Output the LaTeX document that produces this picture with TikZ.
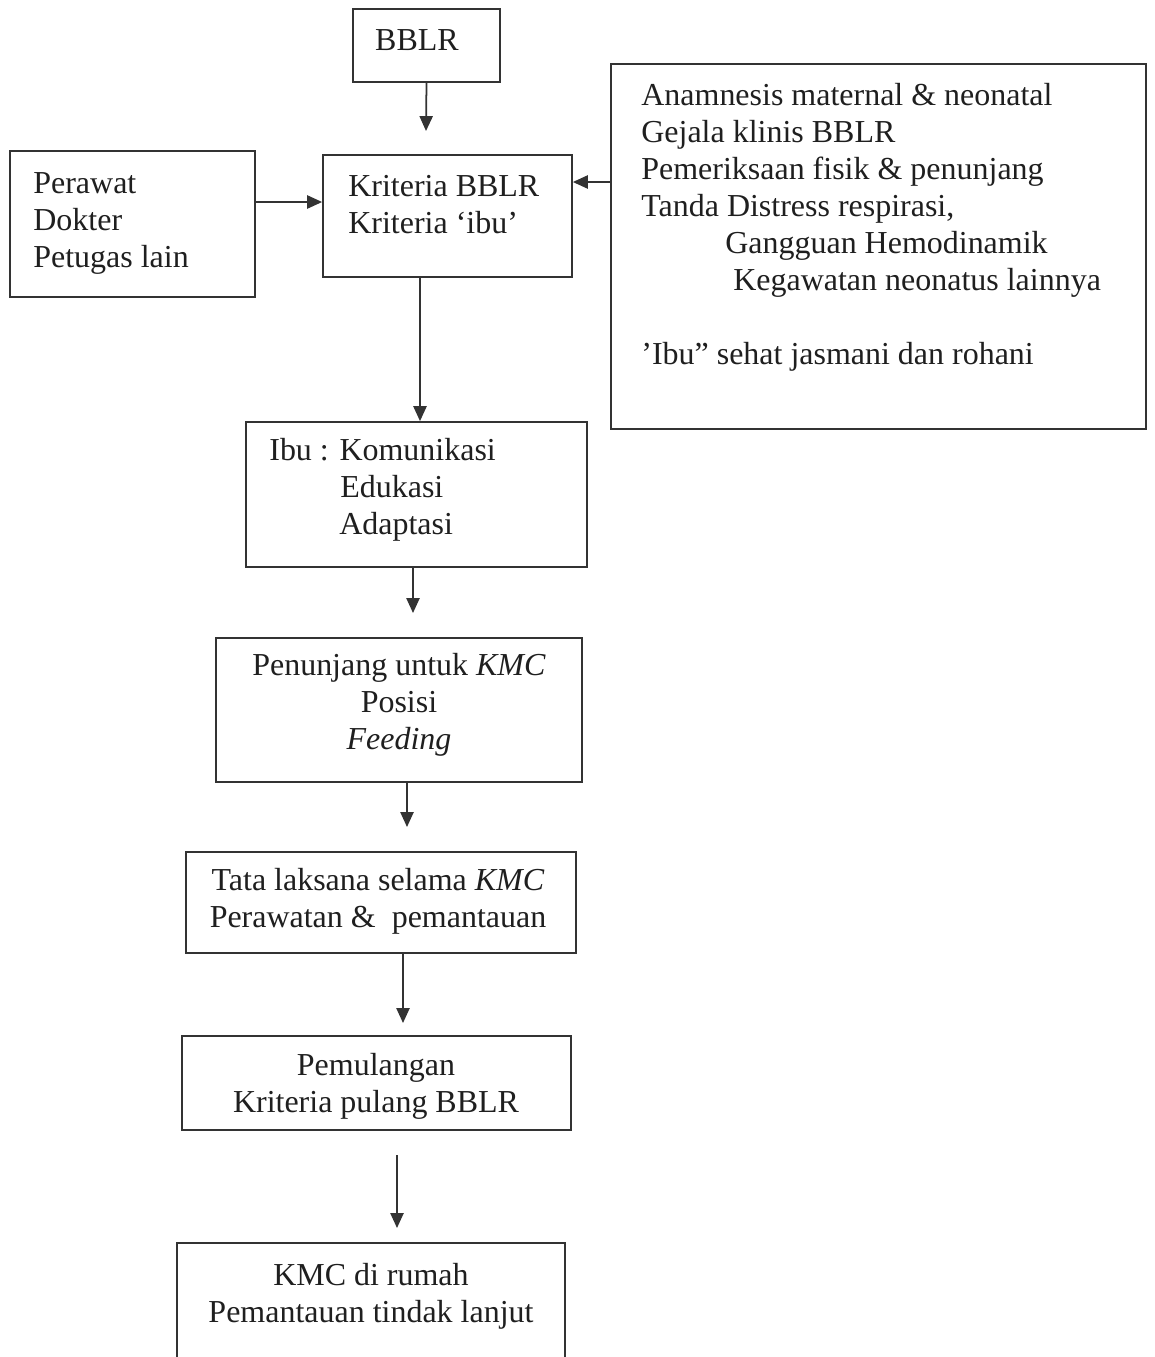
\documentclass[tikz,border=0pt]{standalone}
\usepackage{fontspec}
\setmainfont{Liberation Serif}
\usetikzlibrary{arrows.meta,fit}
\tikzset{
    kotak/.style={draw=black!80, line width=1pt, inner sep=0pt},
    teks/.style={inner sep=0pt, text=black!88, font=\fontsize{18.2}{21}\selectfont},
    panah/.style={draw=black!80, line width=1pt, -{Triangle[length=8.5pt,width=7.5pt]}},
}

\begin{document}
\begin{tikzpicture}[x=0.02cm, y=-0.02cm]
    \clip (0,0) rectangle (1155,1357);
    \fill[white] (0,0) rectangle (1155,1357);
    % kotak-kotak
    \node[kotak, fit={(353,9) (500,82)}] (bblr) {};
    \node[kotak, fit={(10,151) (255,297)}] (kiri) {};
    \node[kotak, fit={(323,155) (572,277)}] (kriteria) {};
    \node[kotak, fit={(611,64) (1146,429)}] (kanan) {};
    \node[kotak, fit={(246,422) (587,567)}] (ibu) {};
    \node[kotak, fit={(216,638) (582,782)}] (penunjang) {};
    \node[kotak, fit={(186,852) (576,953)}] (tata) {};
    \node[kotak, fit={(182,1036) (571,1130)}] (pulang) {};
    \node[kotak, fit={(177,1243) (565,1380)}] (rumah) {};
    % teks (anchor base = baris terakhir)
    \node[teks, anchor=base] (bblrT) at (417,50) {BBLR};
    \node[teks, anchor=base west, align=left] (kiriT) at (33,267) {Perawat\\Dokter\\Petugas lain};
    \node[teks, anchor=base west, align=left] (kriteriaT) at (348,233) {Kriteria BBLR\\Kriteria `ibu'};
    \node[teks, anchor=base west, align=left] (kananT) at (641,364) {Anamnesis maternal \& neonatal\\
        Gejala klinis BBLR\\
        Pemeriksaan fisik \& penunjang\\
        Tanda Distress respirasi,\\
        \hspace*{1.68cm}Gangguan Hemodinamik\\
        \hspace*{1.84cm}Kegawatan neonatus lainnya\\[21pt]
        'Ibu'' sehat jasmani dan rohani};
    \node[teks, anchor=base west, align=left] (ibuT) at (269,534) {Ibu : Komunikasi\\
        \hspace*{1.42cm}Edukasi\\
        \hspace*{1.4cm}Adaptasi};
    \node[teks, anchor=base, align=center] (penunjangT) at (399,749) {Penunjang untuk \textit{KMC}\\Posisi\\\textit{Feeding}};
    \node[teks, anchor=base, align=center] (tataT) at (378,927) {Tata laksana selama \textit{KMC}\\Perawatan \&~~pemantauan};
    \node[teks, anchor=base, align=center] (pulangT) at (376,1112) {Pemulangan\\Kriteria pulang BBLR};
    \node[teks, anchor=base, align=center] (rumahT) at (371,1322) {KMC di rumah\\Pemantauan tindak lanjut};
    % panah
    \coordinate (u1) at (426,131);
    \coordinate (u2) at (413,613);
    \coordinate (u3) at (407,827);
    \coordinate (u4) at (403,1023);
    \coordinate (p1) at (397,1155);
    \coordinate (p2) at (397,1228);
    \draw[panah] (bblr.south) -- (u1);
    \draw[panah] (kiri.east |- 0,202) -- (kriteria.west |- 0,202);
    \draw[panah] (kanan.west |- 0,182) -- (kriteria.east |- 0,182);
    \draw[panah] (kriteria.south -| 420,0) -- (ibu.north -| 420,0);
    \draw[panah] (ibu.south -| u2) -- (u2);
    \draw[panah] (penunjang.south -| u3) -- (u3);
    \draw[panah] (tata.south -| u4) -- (u4);
    \draw[panah] (p1) -- (p2);
\end{tikzpicture}
\end{document}
